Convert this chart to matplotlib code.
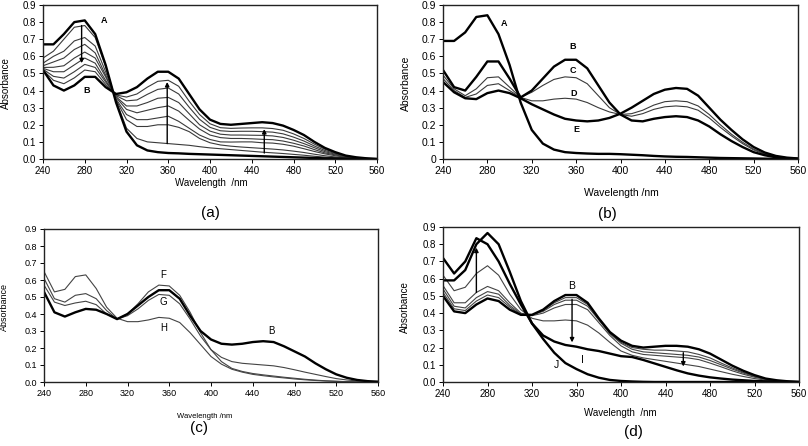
import matplotlib
matplotlib.use("Agg")
import matplotlib.pyplot as plt
from matplotlib.ticker import FixedLocator, FuncFormatter

plt.rcParams['font.family'] = ['Liberation Sans', 'DejaVu Sans']

# wavelength grid (nm)
wl = list(range(240, 561, 10))

# ---- panel (a) ----
a_A = [.67, .67, .73, .80, .81, .73, .55, .33, .16, .08, .05, .04, .035, .033, .030, .028,
       .026, .024, .022, .020, .018, .016, .014, .012, .010, .008, .006, .004, .003, .002, .001, .0005, 0]
a_B = [.52, .43, .40, .43, .48, .48, .42, .38, .39, .42, .47, .51, .51, .47, .38, .29,
       .23, .205, .20, .205, .21, .215, .21, .195, .17, .14, .10, .065, .04, .02, .01, .004, 0]
a_I1 = [.59, .63, .70, .77, .78, .71, .54, .34, .18, .12, .10, .095, .09, .085, .08, .072,
        .065, .06, .055, .05, .045, .04, .036, .032, .027, .022, .016, .011, .007, .004, .002, .001, 0]
a_I2 = [.56, .60, .63, .69, .71, .66, .51, .345, .23, .19, .19, .20, .20, .185, .16, .12,
        .095, .082, .075, .07, .066, .062, .058, .053, .046, .038, .028, .019, .012, .007, .003, .001, 0]
a_I3 = [.545, .567, .59, .64, .67, .62, .49, .35, .26, .23, .23, .24, .25, .22, .18, .14,
        .114, .10, .099, .10, .10, .095, .093, .086, .075, .06, .044, .03, .019, .01, .005, .002, 0]
a_I4 = [.535, .536, .545, .59, .625, .59, .48, .36, .29, .27, .285, .30, .31, .28, .226, .175,
        .14, .125, .12, .12, .118, .115, .113, .105, .092, .076, .055, .036, .024, .012, .006, .002, 0]
a_I5 = [.53, .51, .51, .55, .59, .56, .46, .364, .31, .31, .33, .355, .36, .33, .265, .20,
        .163, .145, .14, .14, .139, .138, .135, .126, .11, .09, .066, .043, .028, .014, .007, .003, 0]
a_I6 = [.525, .483, .473, .51, .553, .535, .45, .37, .34, .345, .378, .407, .415, .38, .303, .232,
        .185, .165, .161, .162, .162, .16, .157, .147, .128, .105, .076, .05, .032, .016, .008, .003, 0]
a_I7 = [.52, .46, .44, .474, .52, .51, .436, .374, .362, .38, .42, .454, .46, .425, .338, .26,
        .206, .183, .179, .181, .182, .182, .178, .168, .147, .12, .087, .057, .036, .018, .009, .003, 0]

# ---- panel (b) ----
b_A = [.69, .69, .74, .83, .84, .73, .55, .33, .17, .09, .055, .04, .035, .032, .03, .03,
       .028, .025, .022, .018, .015, .013, .012, .01, .008, .006, .005, .004, .003, .002, .001, .0005, 0]
b_B = [.52, .42, .40, .48, .57, .57, .47, .36, .40, .47, .54, .58, .58, .53, .43, .33,
       .26, .225, .22, .235, .245, .25, .245, .225, .19, .145, .105, .07, .04, .022, .01, .004, .001]
b_C = [.49, .41, .37, .41, .475, .48, .42, .36, .39, .43, .465, .48, .475, .44, .37, .30,
       .26, .25, .265, .29, .305, .31, .305, .285, .24, .185, .135, .09, .053, .028, .014, .005, .002]
b_D = [.47, .40, .36, .38, .43, .44, .40, .36, .34, .34, .35, .355, .35, .33, .30, .275,
       .26, .265, .285, .315, .335, .34, .335, .31, .26, .20, .145, .098, .058, .03, .015, .006, .002]
b_E = [.45, .39, .355, .35, .385, .40, .385, .355, .32, .29, .26, .235, .225, .22, .225, .24,
       .265, .30, .34, .38, .405, .415, .41, .37, .30, .23, .17, .115, .07, .038, .018, .008, .003]

# ---- panel (c) ----
c_B = [.53, .41, .385, .41, .43, .425, .40, .37, .40, .45, .50, .54, .54, .49, .39, .30,
       .25, .225, .22, .225, .235, .24, .235, .21, .18, .15, .11, .075, .045, .025, .012, .005, .002]
c_F = [.57, .47, .45, .465, .475, .455, .40, .37, .40, .46, .53, .57, .565, .51, .41, .29,
       .19, .12, .08, .062, .05, .042, .035, .028, .022, .016, .011, .007, .004, .002, .001, 0, 0]
c_G = [.61, .49, .47, .51, .52, .49, .42, .37, .39, .43, .48, .515, .51, .46, .37, .27,
       .19, .145, .12, .11, .105, .10, .095, .085, .072, .058, .045, .032, .02, .012, .006, .003, .001]
c_H = [.65, .53, .545, .62, .63, .55, .44, .375, .355, .355, .365, .38, .375, .35, .29, .22,
       .15, .105, .075, .058, .045, .037, .03, .024, .018, .013, .009, .006, .004, .002, .001, 0, 0]

# ---- panel (d) ----
d_B = [.50, .41, .40, .45, .485, .47, .42, .39, .39, .42, .47, .505, .505, .46, .37, .29,
       .24, .21, .20, .205, .21, .21, .205, .19, .165, .13, .095, .065, .04, .02, .01, .004, 0]
d_I = [.72, .63, .70, .835, .80, .70, .57, .45, .34, .27, .235, .215, .205, .19, .18, .165,
       .15, .145, .128, .108, .088, .068, .05, .037, .027, .02, .014, .01, .006, .004, .002, .001, 0]
d_J = [.59, .59, .65, .80, .865, .80, .64, .47, .34, .25, .17, .11, .075, .045, .025, .012,
       .006, .003, .001, 0, 0, 0, 0, 0, 0, 0, 0, 0, 0, 0, 0, 0, 0]
d_T1 = [.62, .53, .55, .63, .675, .62, .51, .42, .37, .355, .355, .36, .355, .33, .285, .23,
        .18, .155, .14, .13, .12, .11, .10, .09, .075, .06, .045, .032, .02, .011, .005, .002, 0]
d_T2 = [.56, .46, .46, .52, .555, .53, .46, .40, .385, .40, .43, .45, .45, .42, .345, .27,
        .21, .175, .16, .155, .15, .145, .14, .13, .11, .088, .065, .045, .028, .015, .007, .003, 0]
d_T3 = [.54, .44, .43, .49, .525, .51, .445, .395, .39, .41, .45, .475, .475, .44, .36, .28,
        .225, .19, .175, .17, .165, .16, .155, .145, .125, .10, .075, .052, .032, .017, .008, .003, 0]
d_T4 = [.52, .425, .415, .47, .505, .49, .435, .39, .39, .415, .46, .49, .49, .45, .365, .285,
        .23, .20, .19, .185, .185, .18, .175, .16, .14, .11, .082, .056, .035, .018, .009, .003, 0]

# curve labels (text, wavelength, absorbance)
labels_a = [('A', 298, .81), ('B', 282, .40)]
labels_b = [('A', 295, .79), ('B', 357, .655), ('C', 357, .515), ('D', 358, .38), ('E', 360, .17)]
labels_c = [('F', 354, .63), ('G', 354, .47), ('H', 355, .32), ('B', 458, .30)]
labels_d = [('B', 356, .56), ('I', 365, .13), ('J', 342, .10)]

# arrows (wavelength, start, end)
arrows_a = [(277, .78, .56), (359, .09, .45), (452, .035, .175)]
arrows_d = [(270, .52, .78), (356, .48, .23), (456, .17, .09)]

W, H = 808, 446
fig = plt.figure(figsize=(W / 100, H / 100), dpi=100)


def box(l, t, r, b):
    return [l / W, 1 - b / H, (r - l) / W, (b - t) / H]


def setup(ax, fs, zero_label='0.0'):
    ax.set_xlim(240, 560)
    ax.set_ylim(0, 0.9)
    ax.xaxis.set_major_locator(FixedLocator(range(240, 561, 40)))
    ax.yaxis.set_major_locator(FixedLocator([i / 10 for i in range(10)]))
    ax.yaxis.set_major_formatter(FuncFormatter(lambda v, p: zero_label if v == 0 else f'{v:.1f}'))
    ax.tick_params(direction='out', length=3, width=0.7, labelsize=fs, pad=2)
    for s in ax.spines.values():
        s.set_linewidth(1.0)
        s.set_color('#222222')


thick = dict(color='black', lw=1.7)
thin = dict(color='#3a3a3a', lw=0.8)

# (a)
ax = fig.add_axes(box(43, 5, 377, 159))
setup(ax, 7)
for y in [a_I1, a_I2, a_I3, a_I4, a_I5, a_I6, a_I7]:
    ax.plot(wl, y, **thin)
ax.plot(wl, a_A, **thick)
ax.plot(wl, a_B, **thick)
for t, x, y in labels_a:
    ax.text(x, y, t, fontsize=6.5, fontweight='bold', ha='center', va='center')
for x, y0, y1 in arrows_a:
    ax.annotate('', xy=(x, y1), xytext=(x, y0),
                arrowprops=dict(arrowstyle='-|>', color='black', lw=1.0, mutation_scale=6, shrinkA=0, shrinkB=0))

# (b)
ax = fig.add_axes(box(443, 5, 798, 159))
setup(ax, 7.5, zero_label='0')
ax.plot(wl, b_C, **thin)
ax.plot(wl, b_D, **thin)
for y in [b_A, b_B, b_E]:
    ax.plot(wl, y, **thick)
for t, x, y in labels_b:
    ax.text(x, y, t, fontsize=6.5, fontweight='bold', ha='center', va='center')

# (c)
ax = fig.add_axes(box(44, 229, 378, 382))
setup(ax, 6.5)
for y in [c_F, c_G, c_H]:
    ax.plot(wl, y, color='#444444', lw=0.8)
ax.plot(wl, c_B, **thick)
for t, x, y in labels_c:
    ax.text(x, y, t, fontsize=7, ha='center', va='center')

# (d)
ax = fig.add_axes(box(443, 227, 799, 382))
setup(ax, 7)
for y in [d_T1, d_T2, d_T3, d_T4]:
    ax.plot(wl, y, color='#444444', lw=0.8)
for y in [d_B, d_I, d_J]:
    ax.plot(wl, y, **thick)
for t, x, y in labels_d:
    ax.text(x, y, t, fontsize=7.5, ha='center', va='center')
for x, y0, y1 in arrows_d:
    ax.annotate('', xy=(x, y1), xytext=(x, y0),
                arrowprops=dict(arrowstyle='-|>', color='black', lw=1.0, mutation_scale=6, shrinkA=0, shrinkB=0))

# axis titles and panel letters (pixel positions)
def ftext(x, y, s, **kw):
    fig.text(x / W, 1 - y / H, s, ha='center', va='center', **kw)

ftext(6, 83, 'Absorbance', rotation=90, fontsize=7)
ftext(406, 83, 'Absorbance', rotation=90, fontsize=7.5)
ftext(4, 307, 'Absorbance', rotation=90, fontsize=6.5)
ftext(405, 307, 'Absorbance', rotation=90, fontsize=7)
ftext(211, 183, 'Wavelength  /nm', fontsize=7)
ftext(621, 193, 'Wavelength /nm', fontsize=7.5)
ftext(205, 417, 'Wavelength /nm', fontsize=5.5)
ftext(620, 413, 'Wavelength  /nm', fontsize=7)
ftext(210, 213, '(a)', fontsize=11)
ftext(607, 214, '(b)', fontsize=11)
ftext(199, 428, '(c)', fontsize=11)
ftext(633, 432, '(d)', fontsize=11)

fig.savefig('out.png', dpi=100)
